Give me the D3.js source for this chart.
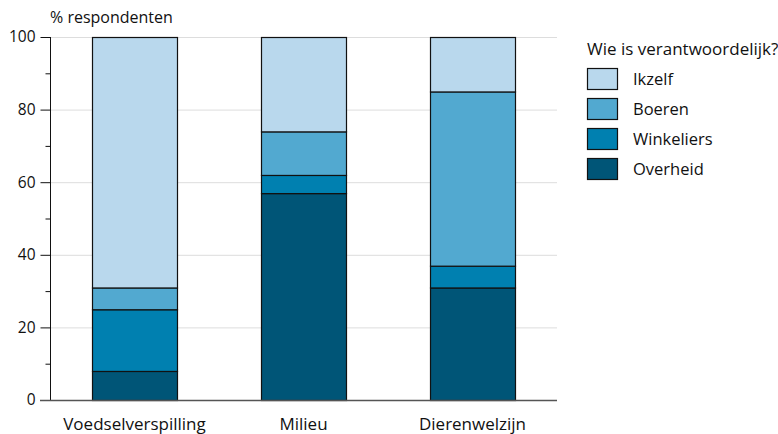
<!DOCTYPE html>
<html>
<head>
<meta charset="utf-8">
<script src="https://cdn.jsdelivr.net/npm/d3@7"></script>
<style>
  html, body { margin: 0; padding: 0; background: #fff; }
  svg { display: block; font-family: "Open Sans", "Noto Sans", sans-serif; }
</style>
</head>
<body>
<svg id="chart" width="778" height="434"></svg>
<script>
// Survey categories and share of respondents per responsible party (%)
const categories = ["Voedselverspilling", "Milieu", "Dierenwelzijn"];
const seriesNames = ["Overheid", "Winkeliers", "Boeren", "Ikzelf"];
const overheid   = [8, 57, 31];
const winkeliers = [17, 5, 6];
const boeren     = [6, 12, 48];
const ikzelf     = [69, 26, 15];
const colors = ["#005577", "#0080b0", "#52a9d0", "#b9d8ed"];
const yTicks = [0, 20, 40, 60, 80, 100];
const yMinorTicks = [10, 30, 50, 70, 90];
const legendTitle = "Wie is verantwoordelijk?";
const yTitle = "% respondenten";

const seriesValues = [overheid, winkeliers, boeren, ikzelf];
const rows = categories.map((c, i) => {
  const r = { category: c };
  seriesNames.forEach((s, j) => { r[s] = seriesValues[j][i]; });
  return r;
});

const svg = d3.select("#chart");
const margin = { left: 50, right: 221, top: 37, bottom: 34 };
const W = 778, H = 434;

const x = d3.scaleBand()
  .domain(categories)
  .range([margin.left, W - margin.right])
  .paddingInner(0.5)
  .paddingOuter(0.25);

const y = d3.scaleLinear()
  .domain([0, 100])
  .range([H - margin.bottom, margin.top]);

// Gridlines
svg.append("g")
  .selectAll("line")
  .data(yTicks.filter(t => t > 0))
  .join("line")
  .attr("x1", margin.left)
  .attr("x2", W - margin.right)
  .attr("y1", d => y(d) + 0.5)
  .attr("y2", d => y(d) + 0.5)
  .attr("stroke", "#dddddd")
  .attr("stroke-width", 1);

// Stacked bars
const stack = d3.stack().keys(seriesNames);
const layers = stack(rows);

svg.append("g")
  .selectAll("g")
  .data(layers)
  .join("g")
  .attr("fill", (d, i) => colors[i])
  .selectAll("rect")
  .data(d => d)
  .join("rect")
  .attr("x", d => Math.round(x(d.data.category)) + 0.5)
  .attr("width", Math.round(x.bandwidth()))
  .attr("y", d => y(d[1]) + 0.5)
  .attr("height", d => y(d[0]) - y(d[1]))
  .attr("stroke", "#111")
  .attr("stroke-width", 1.2);

// Y axis with major and minor ticks
const yAxis = svg.append("g")
  .attr("transform", `translate(${margin.left + 0.5},0)`)
  .call(d3.axisLeft(y).tickValues(yTicks).tickSize(10).tickPadding(5));
yAxis.select(".domain").attr("stroke", "#111").attr("d", `M0,${y(0)}V${y(100)}`);
yAxis.selectAll(".tick line").attr("stroke", "#111");
yAxis.selectAll(".tick text")
  .attr("font-size", 15.5)
  .attr("fill", "#111")
  .attr("font-family", "'Open Sans', sans-serif");

svg.append("g")
  .attr("transform", `translate(${margin.left + 0.5},0)`)
  .selectAll("line")
  .data(yMinorTicks)
  .join("line")
  .attr("x1", -5).attr("x2", 0)
  .attr("y1", d => y(d) + 0.5).attr("y2", d => y(d) + 0.5)
  .attr("stroke", "#111");

// Baseline
svg.append("line")
  .attr("x1", margin.left - 10)
  .attr("x2", W - margin.right)
  .attr("y1", y(0) + 0.5)
  .attr("y2", y(0) + 0.5)
  .attr("stroke", "#555")
  .attr("stroke-width", 1.5);

// X axis labels
svg.append("g")
  .selectAll("text")
  .data(categories)
  .join("text")
  .attr("x", d => x(d) + x.bandwidth() / 2)
  .attr("y", 430)
  .attr("text-anchor", "middle")
  .attr("font-size", 17)
  .attr("fill", "#111")
  .text(d => d);

// Y title
svg.append("text")
  .attr("x", 50)
  .attr("y", 23)
  .attr("font-size", 16)
  .attr("fill", "#111")
  .text(yTitle);

// Legend
const legend = svg.append("g").attr("transform", "translate(587,0)");
legend.append("text")
  .attr("x", 0).attr("y", 55)
  .attr("font-size", 17)
  .attr("fill", "#111")
  .text(legendTitle);

const legendOrder = seriesNames.slice().reverse();
const legendItems = legend.selectAll("g.item")
  .data(legendOrder)
  .join("g")
  .attr("class", "item")
  .attr("transform", (d, i) => `translate(0,${68 + i * 30})`);
legendItems.append("rect")
  .attr("x", 0.5).attr("y", 0.5)
  .attr("width", 30).attr("height", 21)
  .attr("fill", d => colors[seriesNames.indexOf(d)])
  .attr("stroke", "#111")
  .attr("stroke-width", 1.2);
legendItems.append("text")
  .attr("x", 46).attr("y", 17)
  .attr("font-size", 16.5)
  .attr("fill", "#111")
  .text(d => d);
</script>
</body>
</html>
